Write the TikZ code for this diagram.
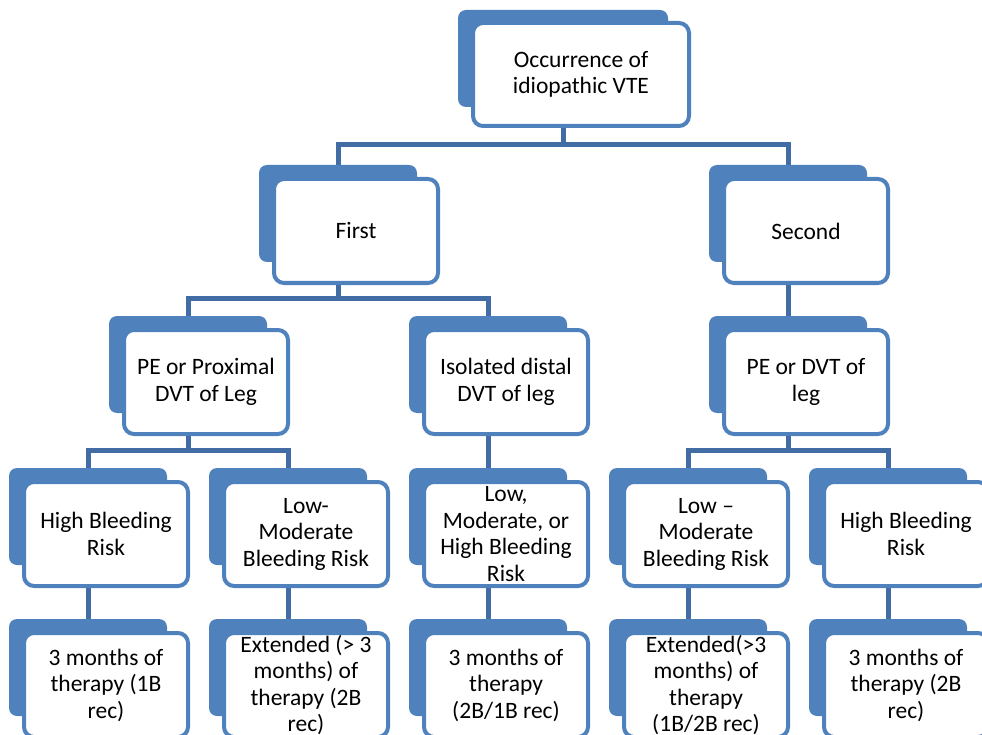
\documentclass[tikz,border=0pt]{standalone}
\usepackage{fontspec}
\setmainfont{Carlito}
\usepackage{tikz}
\usetikzlibrary{backgrounds}
\usepackage{xcolor}
\definecolor{boxblue}{RGB}{79,129,189}
\definecolor{linkblue}{RGB}{66,108,164}

\begin{document}
\begin{tikzpicture}[x=1pt, y=-1pt,
    tab/.style={fill=boxblue, rounded corners=8pt, inner sep=0pt,
      minimum width=158pt, minimum height=97pt},
    box/.style={draw=boxblue, line width=4pt, fill=white, rounded corners=10pt,
      inner sep=0pt, minimum width=164pt, minimum height=104pt, align=center,
      font=\fontsize{23.5}{26.5}\selectfont},
    link/.style={draw=linkblue, line width=5pt}]
  \useasboundingbox (0,0) rectangle (982,735);
  \clip (0,0) rectangle (982,735);

  % root
  \node[tab, minimum width=210pt] (top-tab) at (563,58.5) {};
  \node[box, minimum width=216pt, minimum height=103pt] (top) at (581,74.5)
    {Occurrence of\\idiopathic VTE};

  % first and second, kind of VTE
  \foreach \n/\x/\y/\txt in {first/338/213.5/First, second/788/213.5/Second,
      pe/188/364.5/{PE or Proximal\\DVT of Leg},
      iso/488/364.5/{Isolated distal\\DVT of leg},
      pedvt/788/364.5/{PE or DVT of\\leg}}
  {
    \node[tab] (\n-tab) at (\x,\y) {};
    \node[box] (\n) at ([shift={(18,17.5)}]\n-tab.center) {\txt};
  }

  % bleeding risk and therapy
  \foreach \i/\x/\rtxt/\ttxt in {
      1/88/{High Bleeding\\Risk}/{3 months of\\therapy (1B\\rec)},
      2/288/{Low-\\Moderate\\Bleeding Risk}/{Extended (> 3\\months) of\\therapy (2B\\rec)},
      3/488/{Low,\\Moderate, or\\High Bleeding\\Risk}/{3 months of\\therapy\\(2B/1B rec)},
      4/688/{Low –\\Moderate\\Bleeding Risk}/{Extended(>3\\months) of\\therapy\\(1B/2B rec)},
      5/888/{High Bleeding\\Risk}/{3 months of\\therapy (2B\\rec)}}
  {
    \node[tab] (risk\i-tab) at (\x,516.5) {};
    \node[box] (risk\i) at ([shift={(18,17.5)}]risk\i-tab.center) {\rtxt};
    \node[tab] (ther\i-tab) at (\x,667.5) {};
    \node[box] (ther\i) at ([shift={(18,17.5)}]ther\i-tab.center) {\ttxt};
  }

  % connectors
  \begin{scope}[on background layer]
    \draw[link] (top-tab |- top.south) -- (top-tab |- 0,145);
    \draw[link] (first-tab.north) |- (second-tab.north |- 0,145) -- (second-tab.north);

    \draw[link] (first-tab |- first.south) -- (first-tab |- 0,298);
    \draw[link] (pe-tab.north) |- (iso-tab.north |- 0,298) -- (iso-tab.north);
    \draw[link] (second-tab |- second.south) -- (pedvt-tab.north);

    \draw[link] (pe-tab |- pe.south) -- (pe-tab |- 0,450);
    \draw[link] (risk1-tab.north) |- (risk2-tab.north |- 0,450) -- (risk2-tab.north);
    \draw[link] (iso-tab |- iso.south) -- (risk3-tab.north);
    \draw[link] (pedvt-tab |- pedvt.south) -- (pedvt-tab |- 0,450);
    \draw[link] (risk4-tab.north) |- (risk5-tab.north |- 0,450) -- (risk5-tab.north);

    \foreach \i in {1,...,5}
      \draw[link] (risk\i-tab |- risk\i.south) -- (ther\i-tab.north);
  \end{scope}
\end{tikzpicture}
\end{document}
